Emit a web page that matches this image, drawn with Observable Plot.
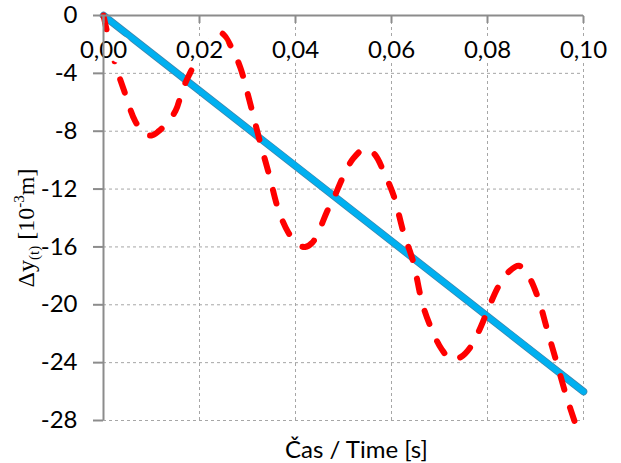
<!DOCTYPE html>
<html><head><meta charset="utf-8">
<script src="https://cdn.jsdelivr.net/npm/d3@7"></script>
<script src="https://cdn.jsdelivr.net/npm/@observablehq/plot@0.6"></script>
<style>body{margin:0;background:#fff}</style>
</head><body><div id="chart"></div>
<script>
const xTicks = [0, 0.02, 0.04, 0.06, 0.08, 0.10];
const yTicks = [0, -4, -8, -12, -16, -20, -24, -28];
const linearTime = [0, 0.10];
const linearDy = [0, -26];
const waveTime = [0, 0.0008, 0.0025, 0.0045, 0.0066, 0.0085, 0.0100, 0.0115, 0.0130, 0.0150, 0.0165, 0.0180, 0.0200, 0.0220, 0.0245, 0.0265, 0.0285, 0.0305, 0.0325, 0.0345, 0.0365, 0.0385, 0.0405, 0.0420, 0.0435, 0.0450, 0.0465, 0.0480, 0.0500, 0.0520, 0.0545, 0.0565, 0.0585, 0.0605, 0.0625, 0.0645, 0.0665, 0.0685, 0.0705, 0.0725, 0.0745, 0.0765, 0.0785, 0.0805, 0.0825, 0.0845, 0.0865, 0.0885, 0.0905, 0.0925, 0.0945, 0.0965, 0.0985];
const waveDy = [0, -1.2, -3.4, -5.4, -7.3, -8.15, -8.3, -8.0, -7.5, -6.6, -5.1, -4.0, -2.7, -1.6, -1.2, -2.1, -3.6, -6.0, -8.6, -11.0, -13.5, -15.0, -15.85, -16.0, -15.7, -14.8, -13.6, -12.6, -11.1, -9.9, -9.2, -9.6, -10.9, -12.5, -15.0, -17.0, -20.0, -21.8, -23.1, -23.8, -23.6, -22.9, -21.6, -20.0, -18.6, -17.7, -17.3, -18.0, -19.5, -21.8, -24.1, -26.4, -28.4];
const xTitle = "Čas / Time [s]";

const linear = linearTime.map((t, i) => ({t, v: linearDy[i]}));
const wave = waveTime.map((t, i) => ({t, v: waveDy[i]}));
const fmtX = d => d3.format(".2f")(d).replace(".", ",");
const axisGray = "#8c8c8c";
const gridGray = "#a6a6a6";
const font = "Lato, 'Open Sans', sans-serif";

const chart = Plot.plot({
  width: 621, height: 463,
  marginLeft: 103, marginRight: 38, marginTop: 15, marginBottom: 43,
  style: {fontFamily: font, background: "white"},
  x: {domain: [0, 0.10], axis: null, label: null},
  y: {domain: [-28, 0], axis: null, label: null},
  marks: [
    Plot.ruleX(xTicks.slice(1), {x: d => d, stroke: gridGray, strokeWidth: 1, strokeDasharray: "3,3"}),
    Plot.ruleY(yTicks.slice(1), {y: d => d, stroke: gridGray, strokeWidth: 1, strokeDasharray: "3,3"}),
    Plot.line(linear, {x: "t", y: "v", stroke: "#3d86ad", strokeWidth: 7.5}),
    Plot.line(linear, {x: "t", y: "v", stroke: "#00B0F0", strokeWidth: 6}),
    Plot.line(wave, {x: "t", y: "v", stroke: "#FF0000", strokeWidth: 6, strokeDasharray: "14,19", strokeLinecap: "round", curve: "catmull-rom"}),
    Plot.text(xTicks, {x: d => d, y: 0, text: fmtX, dy: 35, fontSize: 24, fill: "black", stroke: "white", strokeWidth: 10, lineAnchor: "middle"}),
    Plot.ruleY([0], {stroke: axisGray, strokeWidth: 2}),
    Plot.ruleX([0], {stroke: axisGray, strokeWidth: 2}),
    Plot.axisX({anchor: "top", ticks: xTicks, tickSize: -7, text: null, label: null, stroke: axisGray, strokeWidth: 2}),
    Plot.axisY({anchor: "left", ticks: yTicks, tickSize: 10, text: null, label: null, stroke: axisGray, strokeWidth: 2}),
    Plot.axisY({anchor: "left", ticks: yTicks, tickSize: 0, tickPadding: 26, tickFormat: d => String(d), fontSize: 24, fill: "black", label: null}),
    Plot.text([xTitle], {frameAnchor: "bottom", x: 0.0527, text: d => d, dy: 30, fontSize: 24, fill: "black", lineAnchor: "middle"})
  ]
});
document.getElementById("chart").appendChild(chart);

const svg = d3.select(chart);
const lab = svg.append("text")
  .attr("transform", "translate(34,228) rotate(-90)")
  .attr("text-anchor", "middle")
  .style("font-family", "'Liberation Serif', 'Times New Roman', serif")
  .style("font-size", "24px")
  .attr("fill", "black");
lab.append("tspan").text("Δy");
lab.append("tspan").attr("font-size", "15px").attr("dy", 5).text("(t)");
lab.append("tspan").attr("dy", -5).text(" [10");
lab.append("tspan").attr("font-size", "15px").attr("dy", -10).text("-3");
lab.append("tspan").attr("dy", 10).text("m]");
</script>
</body></html>
